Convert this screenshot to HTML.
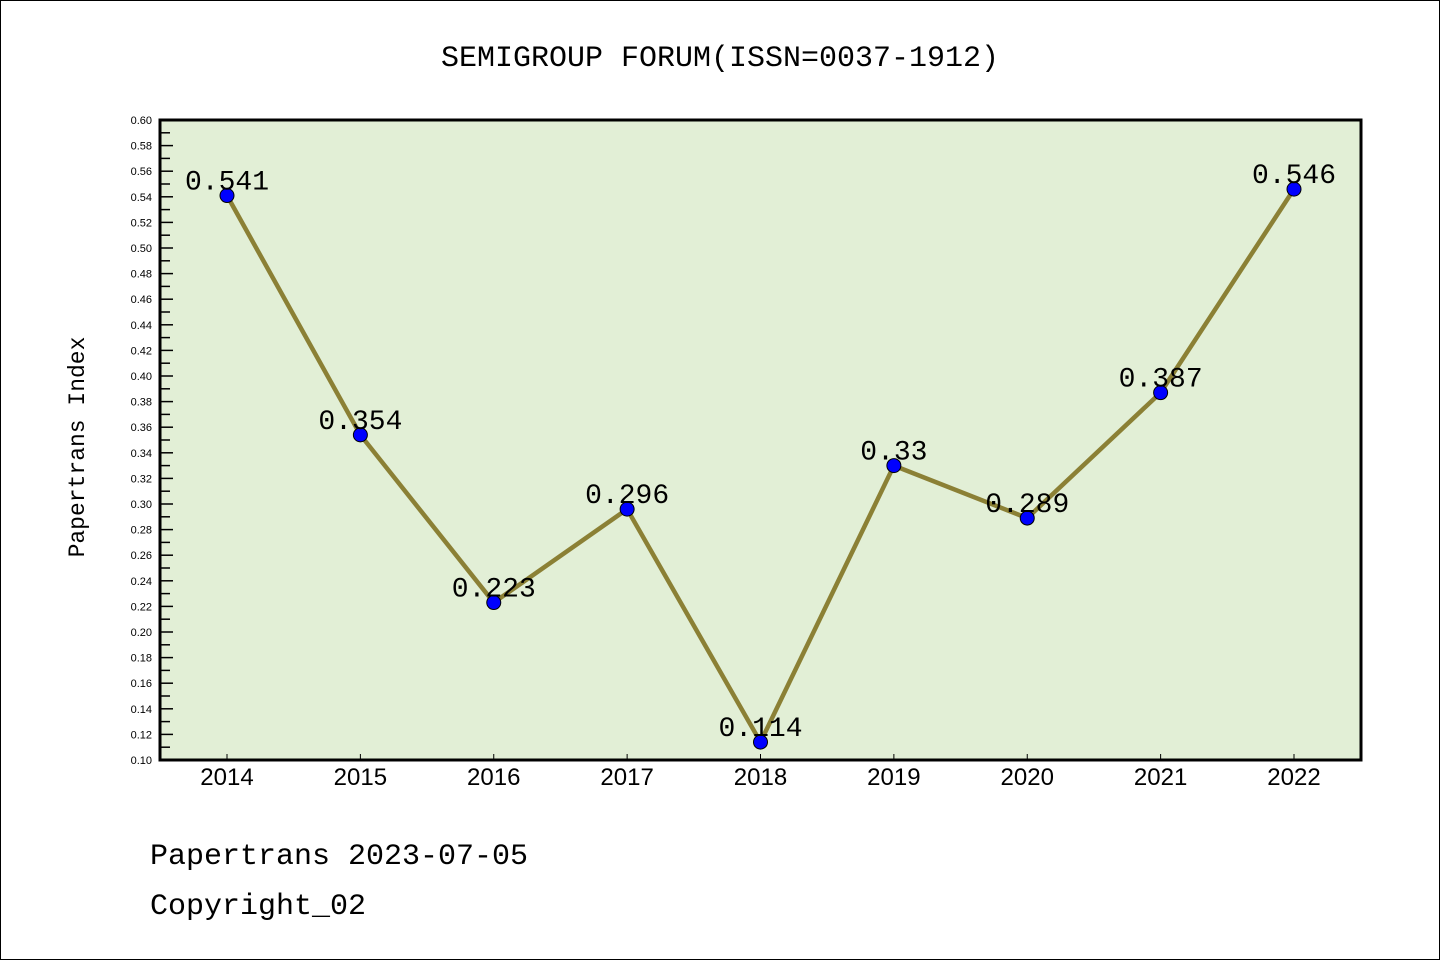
<!DOCTYPE html>
<html><head><meta charset="utf-8"><style>
body{margin:0;background:#fff}
svg{display:block}
.m{font-family:"Liberation Mono","DejaVu Sans Mono",monospace}
.s{font-family:"Liberation Sans","DejaVu Sans",sans-serif}
</style></head><body>
<svg id="c" width="1440" height="960" xmlns="http://www.w3.org/2000/svg">
<rect x="0.5" y="0.5" width="1439" height="959" fill="#fff" stroke="#000"/>
<text class="m" x="720" y="66" text-anchor="middle" font-size="30">SEMIGROUP FORUM(ISSN=0037-1912)</text>
<rect x="160" y="120" width="1201" height="640" fill="#e2efd6"/>
<g id="yt"></g><g id="xt"></g><g id="series"></g>
<rect x="160" y="120" width="1201" height="640" fill="none" stroke="#000" stroke-width="3"/>
<text class="m" transform="translate(84,447) rotate(-90)" text-anchor="middle" font-size="23">Papertrans Index</text>
<text class="m" x="150" y="864" font-size="30">Papertrans 2023-07-05</text>
<text class="m" x="150" y="914" font-size="30">Copyright_02</text>
</svg>
<script>
const categories=["2014","2015","2016","2017","2018","2019","2020","2021","2022"];
const values=[0.541,0.354,0.223,0.296,0.114,0.33,0.289,0.387,0.546];
const labels=["0.541","0.354","0.223","0.296","0.114","0.33","0.289","0.387","0.546"];
const yMin=0.10,yMax=0.60;
const NS="http://www.w3.org/2000/svg";
const X=i=>227+i*(1294-227)/(categories.length-1);
const Y=v=>760-(v-yMin)/(yMax-yMin)*640;
function mk(t,a,p){const e=document.createElementNS(NS,t);for(const k in a)e.setAttribute(k,a[k]);p.appendChild(e);return e;}
const yt=document.getElementById('yt'),xt=document.getElementById('xt'),s=document.getElementById('series');
for(let k=0;k<=50;k++){const v=yMin+k*0.01,y=Y(v);
 const l=mk('line',{x1:160,x2:k%2?170:173,y1:y,y2:y,stroke:'#000','stroke-width':1.5},yt);
 
 
 if(k%2==0){const t=mk('text',{x:152,y:y+4,'text-anchor':'end','font-size':11,'class':'s'},yt);t.textContent=v.toFixed(2);
 
 }
}
categories.forEach((c,i)=>{const x=X(i);
 const l=mk('line',{x1:x,x2:x,y1:760,y2:754,stroke:'#000','stroke-width':1},xt);
 
 
 const t=mk('text',{x:x,y:785,'text-anchor':'middle','font-size':24,'class':'s'},xt);t.textContent=c;
 
 
});
const pl=mk('polyline',{points:values.map((v,i)=>X(i)+','+Y(v)).join(' '),fill:'none',stroke:'#8b8035','stroke-width':4.5},s);


values.forEach((v,i)=>{
 const c=mk('circle',{cx:X(i),cy:Y(v),r:7,fill:'#0000ff',stroke:'#000','stroke-width':1},s);
 
 
 const t=mk('text',{x:X(i),y:Y(v)-6,'text-anchor':'middle','font-size':28,'class':'m'},s);t.textContent=labels[i];
 
 
});
</script>
</body></html>
